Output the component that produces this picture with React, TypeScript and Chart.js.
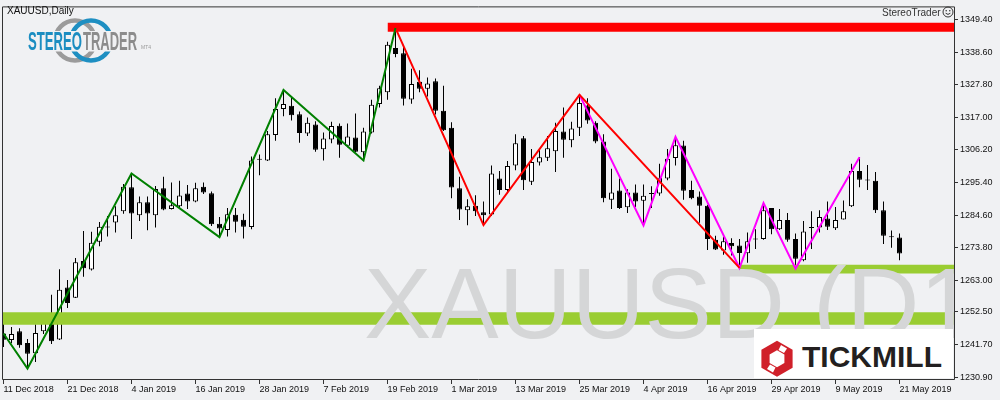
import React, { useEffect, useRef } from 'react';
import { Chart, registerables } from 'chart.js';

Chart.register(...registerables);

// ---- Data (XAUUSD daily) ----
const OPEN = [
  1245.30, 1243.19, 1246.12, 1242.21, 1238.82, 1246.12, 1250.03, 1243.38, 1260.56, 1257.21,
  1269.37, 1266.53, 1275.79, 1280.78, 1282.18, 1285.89, 1293.82, 1284.59, 1288.83, 1284.59,
  1293.49, 1286.64, 1287.52, 1291.76, 1289.15, 1294.04, 1291.86, 1281.75, 1279.70, 1284.69,
  1283.06, 1280.68, 1303.17, 1302.72, 1311.19, 1319.80, 1320.87, 1318.04, 1311.65, 1314.68,
  1306.43, 1309.69, 1314.26, 1307.61, 1310.34, 1305.45, 1311.97, 1321.43, 1325.34, 1340.01,
  1338.25, 1322.93, 1328.80, 1326.51, 1329.02, 1319.24, 1313.60, 1293.49, 1286.22, 1287.72,
  1285.57, 1284.79, 1296.75, 1292.94, 1301.09, 1310.12, 1295.67, 1302.06, 1303.60, 1305.78,
  1312.30, 1309.46, 1313.60, 1320.97, 1315.23, 1309.04, 1289.68, 1292.74, 1287.20, 1292.09,
  1289.35, 1291.86, 1291.76, 1296.75, 1303.50, 1307.67, 1292.94, 1290.78, 1287.72, 1276.44,
  1272.85, 1275.33, 1274.48, 1271.97, 1276.77, 1276.64, 1286.97, 1279.89, 1282.96, 1276.64,
  1269.59, 1280.45, 1280.45, 1283.48, 1280.22, 1283.16, 1287.52, 1299.26, 1296.33, 1295.96,
  1286.22, 1277.52, 1277.19,
];
const HIGH = [
  1249.80, 1247.52, 1247.10, 1243.51, 1248.40, 1250.78, 1258.18, 1266.66, 1263.07, 1270.34,
  1279.37, 1279.05, 1282.31, 1284.27, 1287.52, 1294.89, 1298.38, 1290.78, 1290.78, 1294.24,
  1297.30, 1295.45, 1296.00, 1294.57, 1295.35, 1295.45, 1292.41, 1283.94, 1286.97, 1286.97,
  1285.01, 1304.02, 1304.67, 1312.50, 1323.38, 1326.09, 1323.58, 1318.92, 1316.96, 1315.76,
  1311.97, 1315.56, 1315.01, 1315.01, 1318.27, 1313.60, 1322.83, 1327.49, 1342.06, 1346.63,
  1340.99, 1333.16, 1332.61, 1330.23, 1329.90, 1327.49, 1315.43, 1297.30, 1289.90, 1291.21,
  1289.15, 1301.09, 1299.26, 1302.52, 1311.42, 1310.87, 1306.53, 1306.53, 1310.87, 1315.23,
  1320.32, 1315.56, 1324.46, 1323.38, 1315.76, 1311.42, 1300.01, 1296.75, 1293.16, 1294.79,
  1294.79, 1294.14, 1301.64, 1306.53, 1310.54, 1309.24, 1296.00, 1292.41, 1288.05, 1277.74,
  1277.52, 1276.96, 1276.64, 1278.82, 1279.89, 1288.60, 1286.97, 1286.64, 1285.34, 1278.49,
  1282.64, 1285.89, 1286.22, 1289.15, 1287.30, 1289.48, 1301.64, 1303.82, 1301.22, 1298.93,
  1289.15, 1279.47, 1278.49,
];
const LOW = [
  1240.90, 1242.08, 1240.58, 1233.74, 1235.89, 1245.14, 1241.88, 1243.19, 1253.82, 1257.08,
  1264.15, 1266.21, 1274.26, 1277.52, 1278.82, 1285.01, 1276.64, 1282.64, 1279.57, 1280.45,
  1286.22, 1286.42, 1286.64, 1286.64, 1288.83, 1291.63, 1281.01, 1277.29, 1277.52, 1278.82,
  1276.86, 1279.89, 1297.83, 1302.52, 1309.24, 1317.39, 1315.98, 1308.58, 1310.87, 1305.65,
  1302.72, 1308.39, 1303.60, 1307.08, 1305.45, 1302.72, 1311.65, 1320.32, 1322.83, 1336.95,
  1320.97, 1321.53, 1325.34, 1323.91, 1317.94, 1312.50, 1290.23, 1282.96, 1281.20, 1284.27,
  1281.27, 1284.27, 1291.31, 1291.86, 1299.46, 1292.94, 1294.57, 1301.09, 1302.52, 1298.93,
  1303.60, 1307.08, 1310.87, 1314.91, 1308.39, 1288.83, 1286.64, 1286.64, 1285.34, 1287.30,
  1281.20, 1286.97, 1291.04, 1296.20, 1301.09, 1289.68, 1289.90, 1282.08, 1273.05, 1273.05,
  1271.42, 1271.22, 1267.08, 1268.81, 1273.38, 1276.44, 1278.26, 1279.70, 1275.79, 1266.86,
  1269.27, 1273.38, 1278.82, 1279.70, 1279.70, 1283.16, 1287.30, 1293.82, 1292.94, 1285.34,
  1275.01, 1273.77, 1269.59,
];
const CLOSE = [
  1243.25, 1245.14, 1241.43, 1238.62, 1245.47, 1248.93, 1242.73, 1259.81, 1255.45, 1268.94,
  1266.99, 1275.46, 1280.78, 1280.45, 1284.59, 1294.04, 1285.11, 1288.83, 1285.11, 1293.26,
  1286.42, 1287.85, 1291.11, 1289.15, 1293.49, 1292.09, 1281.53, 1280.12, 1284.92, 1282.41,
  1280.78, 1302.72, 1302.94, 1311.42, 1319.80, 1321.43, 1317.71, 1311.84, 1315.23, 1306.30,
  1310.02, 1314.13, 1307.93, 1310.67, 1305.65, 1312.30, 1321.20, 1326.64, 1341.09, 1338.05,
  1323.16, 1328.05, 1326.51, 1328.27, 1319.24, 1312.72, 1293.72, 1286.42, 1287.52, 1285.89,
  1284.59, 1298.38, 1292.94, 1300.89, 1308.39, 1296.20, 1302.19, 1303.82, 1306.76, 1312.50,
  1309.56, 1313.28, 1321.75, 1315.98, 1309.04, 1290.23, 1292.09, 1286.97, 1292.09, 1289.15,
  1290.98, 1291.63, 1296.98, 1303.27, 1307.74, 1292.68, 1290.23, 1287.72, 1276.64, 1273.18,
  1275.89, 1274.26, 1272.07, 1275.89, 1276.54, 1286.22, 1279.89, 1282.96, 1276.44, 1270.12,
  1279.15, 1280.35, 1283.94, 1280.78, 1282.96, 1285.89, 1299.26, 1296.33, 1296.10, 1286.22,
  1277.74, 1277.29, 1271.88,
];

// x-axis tick positions (bar index) and their date labels
const X_TICKS = [0, 8, 16, 24, 32, 40, 48, 56, 64, 72, 80, 88, 96, 104, 112];
const X_LABELS = [
  '11 Dec 2018', '21 Dec 2018', '4 Jan 2019', '16 Jan 2019', '28 Jan 2019', '7 Feb 2019',
  '19 Feb 2019', '1 Mar 2019', '13 Mar 2019', '25 Mar 2019', '4 Apr 2019', '16 Apr 2019',
  '29 Apr 2019', '9 May 2019', '21 May 2019',
];
const Y_TICKS = [1230.9, 1241.7, 1252.5, 1263.0, 1273.8, 1284.6, 1295.4, 1306.2, 1317.0, 1327.8, 1338.6, 1349.4];

// ZigZag pivots (bar index, price)
const GREEN_ZZ_IDX = [0, 3, 16, 27, 35, 45, 49];
const GREEN_ZZ_VAL = [1245.34, 1233.74, 1298.38, 1277.29, 1326.09, 1302.72, 1346.63];
const RED_ZZ_IDX = [49, 60, 72, 92];
const RED_ZZ_VAL = [1346.63, 1281.27, 1324.46, 1267.08];
const MAGENTA_ZZ_IDX = [72, 80, 84, 92, 95, 99, 107];
const MAGENTA_ZZ_VAL = [1324.46, 1281.20, 1310.54, 1267.08, 1288.60, 1266.86, 1303.82];

// Horizontal zones: [start bar index, top price, bottom price]
const RESIST_ZONE = [48, 1348.36, 1345.42];
const SUPPORT_ZONE_1 = [-2, 1252.41, 1248.27];
const SUPPORT_ZONE_2 = [92, 1268.16, 1265.23];
const ZONE_END = 140;

const BG = '#F0F1F3';
const FONT = "'Liberation Sans', Arial, sans-serif";

function zoneDataset(label: string, zone: number[], color: string, order: number) {
  return {
    type: 'line' as const,
    label,
    data: [{ x: zone[0], y: zone[1] }, { x: ZONE_END, y: zone[1] }],
    borderWidth: 0,
    borderColor: 'rgba(0,0,0,0)',
    backgroundColor: color,
    fill: { value: zone[2] },
    pointRadius: 0,
    tension: 0,
    order,
  };
}

function zigzagDataset(label: string, idx: number[], val: number[], color: string, order: number) {
  return {
    type: 'line' as const,
    label,
    data: idx.map((x, k) => ({ x, y: val[k] })),
    borderColor: color,
    borderWidth: 2,
    pointRadius: 0,
    fill: false,
    tension: 0,
    order,
  };
}

const watermarkPlugin = {
  id: 'watermark',
  afterDatasetDraw(chart: any, args: any) {
    const ds = chart.data.datasets[args.index];
    if (ds.label !== 'Resistance zone') return;
    const { ctx, chartArea } = chart;
    ctx.save();
    ctx.beginPath();
    ctx.rect(chartArea.left, chartArea.top, chartArea.right - chartArea.left, chartArea.bottom - chartArea.top);
    ctx.clip();
    ctx.font = `101px ${FONT}`;
    ctx.fillStyle = 'rgb(213,214,215)';
    ctx.textBaseline = 'alphabetic';
    ctx.textAlign = 'left';
    ctx.fillText('XAUUSD (D1)', 364, 338);
    ctx.restore();
  },
};

const framePlugin = {
  id: 'frame',
  afterDraw(chart: any) {
    const { ctx, chartArea } = chart;
    ctx.save();
    ctx.strokeStyle = '#333333';
    ctx.lineWidth = 1;
    ctx.beginPath();
    ctx.moveTo(chartArea.left + 0.5, chartArea.top - 0.5);
    ctx.lineTo(chartArea.right + 0.5, chartArea.top - 0.5);
    ctx.lineTo(chartArea.right + 0.5, chartArea.bottom + 0.5);
    ctx.lineTo(chartArea.left + 0.5, chartArea.bottom + 0.5);
    ctx.closePath();
    ctx.stroke();
    ctx.restore();
  },
};

export default function App() {
  const ref = useRef<HTMLCanvasElement>(null);

  useEffect(() => {
    const idx = OPEN.map((_, i) => i);
    const wickData = idx.map((i) => ({ x: i, y: [LOW[i], HIGH[i]] }));
    const bodyData = idx.map((i) => ({ x: i, y: [OPEN[i], CLOSE[i]] }));
    const bodyColors = idx.map((i) => (CLOSE[i] >= OPEN[i] ? '#FFFFFF' : '#000000'));

    const chart = new Chart(ref.current as HTMLCanvasElement, {
      type: 'bar',
      data: {
        datasets: [
          zigzagDataset('ZigZag 1', GREEN_ZZ_IDX, GREEN_ZZ_VAL, '#008000', 1),
          zigzagDataset('ZigZag 2', RED_ZZ_IDX, RED_ZZ_VAL, '#FF0000', 2),
          zigzagDataset('ZigZag 3', MAGENTA_ZZ_IDX, MAGENTA_ZZ_VAL, '#FF00FF', 3),
          zoneDataset('Resistance zone', RESIST_ZONE, '#FF0000', 5),
          zoneDataset('Support zone 1', SUPPORT_ZONE_1, '#9ACD32', 6),
          zoneDataset('Support zone 2', SUPPORT_ZONE_2, '#9ACD32', 7),
          {
            type: 'bar',
            label: 'Body',
            data: bodyData as any,
            backgroundColor: bodyColors,
            borderColor: '#000000',
            borderWidth: 1,
            borderSkipped: false,
            barThickness: 5,
            minBarLength: 1,
            grouped: false,
            inflateAmount: 0,
            order: 8,
          } as any,
          {
            type: 'bar',
            label: 'Wick',
            data: wickData as any,
            backgroundColor: '#000000',
            borderWidth: 0,
            barThickness: 1,
            grouped: false,
            inflateAmount: 0,
            order: 9,
          } as any,
        ],
      },
      options: {
        responsive: false,
        devicePixelRatio: 1,
        animation: false,
        events: [],
        layout: { padding: { left: 2, top: 1, right: 0, bottom: 0 } },
        plugins: { legend: { display: false }, tooltip: { enabled: false } },
        scales: {
          x: {
            type: 'linear',
            position: 'bottom',
            min: -0.1875,
            max: 118.8125,
            offset: false,
            afterBuildTicks: (scale: any) => {
              scale.ticks = X_TICKS.map((v) => ({ value: v }));
            },
            afterFit: (scale: any) => {
              scale.height = 21;
            },
            grid: { drawOnChartArea: false, drawTicks: true, tickLength: 5, color: '#333333', offset: false },
            border: { display: false },
            ticks: {
              autoSkip: false,
              maxRotation: 0,
              minRotation: 0,
              align: 'start',
              padding: 0,
              color: '#111111',
              font: { family: FONT, size: 9 },
              callback: (v: any) => {
                const k = X_TICKS.indexOf(Number(v));
                return k >= 0 ? X_LABELS[k] : '';
              },
            },
          },
          y: {
            type: 'linear',
            position: 'right',
            min: 1230.25,
            max: 1353.48,
            afterBuildTicks: (scale: any) => {
              scale.ticks = Y_TICKS.map((v) => ({ value: v }));
            },
            afterFit: (scale: any) => {
              scale.width = 46;
            },
            grid: { drawOnChartArea: false, drawTicks: true, tickLength: 4, color: '#333333' },
            border: { display: false },
            ticks: {
              padding: 2,
              color: '#111111',
              font: { family: FONT, size: 9 },
              callback: (v: any) => Number(v).toFixed(2),
            },
          },
        },
      } as any,
      plugins: [watermarkPlugin, framePlugin],
    });
    return () => chart.destroy();
  }, []);

  return (
    <div style={{ position: 'fixed', left: 0, top: 0, width: 1000, height: 400, background: BG, overflow: 'hidden' }}>
      <canvas ref={ref} width={1000} height={400} style={{ position: 'absolute', left: 0, top: 0, width: 1000, height: 400 }} />
      {/* Symbol / timeframe caption */}
      <div style={{ position: 'absolute', left: 7, top: 5, font: `10px ${FONT}`, lineHeight: '11px', color: '#111' }}>
        XAUUSD,Daily
      </div>
      {/* StereoTrader caption top-right */}
      <div style={{ position: 'absolute', left: 882, top: 6, font: `10px ${FONT}`, lineHeight: '11px', color: '#333', display: 'flex', alignItems: 'center' }}>
        <span>StereoTrader</span>
        <svg width="12" height="12" viewBox="0 0 12 12" style={{ marginLeft: 1 }}>
          <circle cx="6" cy="6" r="5" fill="none" stroke="#333" strokeWidth="1" />
          <circle cx="4.2" cy="4.7" r="0.8" fill="#333" />
          <circle cx="7.8" cy="4.7" r="0.8" fill="#333" />
          <path d="M3.6 7.2 Q6 9.6 8.4 7.2" fill="none" stroke="#333" strokeWidth="1" />
        </svg>
      </div>
      {/* STEREOTRADER logo */}
      <svg width="160" height="70" style={{ position: 'absolute', left: 0, top: 0 }}>
        <defs>
          <clipPath id="ringClip">
            <rect x="0" y="0" width="160" height="31" />
            <rect x="0" y="51.5" width="160" height="20" />
          </clipPath>
        </defs>
        <g clipPath="url(#ringClip)">
          <circle cx="75" cy="40.5" r="20" fill="none" stroke="#9B9B9B" strokeWidth="4.5" />
          <circle cx="91" cy="40.5" r="20" fill="none" stroke="#1E8FC2" strokeWidth="4.5" />
        </g>
        <text x="28" y="50" fontFamily={FONT} fontWeight="bold" fontSize="25" fill="#1B8DC1" textLength="54" lengthAdjust="spacingAndGlyphs">STEREO</text>
        <text x="83" y="50" fontFamily={FONT} fontWeight="bold" fontSize="25" fill="#8C8C8C" textLength="54" lengthAdjust="spacingAndGlyphs">TRADER</text>
        <text x="141" y="49" fontFamily={FONT} fontSize="5" fill="#9A9A9A">MT4</text>
      </svg>
      {/* TICKMILL logo box */}
      <svg width="199" height="49" style={{ position: 'absolute', left: 754, top: 329 }}>
        <rect x="0" y="0" width="199" height="49" fill="#FFFFFF" />
        <polygon points="23,11.7 38.6,20.7 38.6,38.7 23,47.7 7.4,38.7 7.4,20.7" fill="#D0202A" />
        <polygon points="23,21.2 30.4,25.4 30.4,34 23,38.2 15.6,34 15.6,25.4" fill="#FFFFFF" />
        <polygon points="27,16 33,19.5 30,24 24.5,21" fill="#FFFFFF" />
        <polygon points="19,43.5 13,40 16,35.5 21.5,38.5" fill="#FFFFFF" />
        <text x="48" y="38" fontFamily={FONT} fontWeight="bold" fontSize="30" fill="#231F20" textLength="140" lengthAdjust="spacingAndGlyphs">TICKMILL</text>
      </svg>
    </div>
  );
}
